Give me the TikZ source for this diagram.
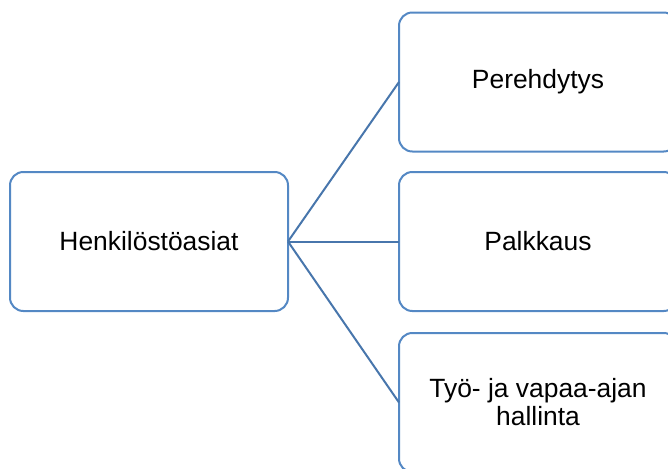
\documentclass[tikz,border=0pt]{standalone}
\usepackage{fontspec}
\setmainfont{Liberation Sans}
\definecolor{boxblue}{RGB}{84,136,196}
\definecolor{lineblue}{RGB}{72,118,172}
\tikzset{
  box/.style={draw=boxblue, line width=1.5pt, rounded corners=10pt, fill=white,
    minimum width=208.5pt, minimum height=104.25pt, inner sep=0pt, outer sep=0pt,
    align=center, font=\fontsize{19.8}{21}\selectfont},
  link/.style={draw=lineblue, line width=1.5pt}
}
\begin{document}
\begin{tikzpicture}[x=0.75pt,y=-0.75pt]
\useasboundingbox (0,0) rectangle (668,468);
\clip (0,0) rectangle (668,468);
% vasen laatikko
\node[box] (root) at (149,241.5) {Henkilöstöasiat};

% oikeat laatikot
\node[box] (P) at (538,82) {Perehdytys};
\node[box] (K) at (538,241.5) {Palkkaus};
\node[box] (T) at (538,402.5) {Työ- ja vapaa-ajan\\hallinta};

% viivat
\draw[link] (root.east)--(P.west);
\draw[link] (root.east)--(K.west);
\draw[link] (root.east)--(T.west);
\end{tikzpicture}
\end{document}
